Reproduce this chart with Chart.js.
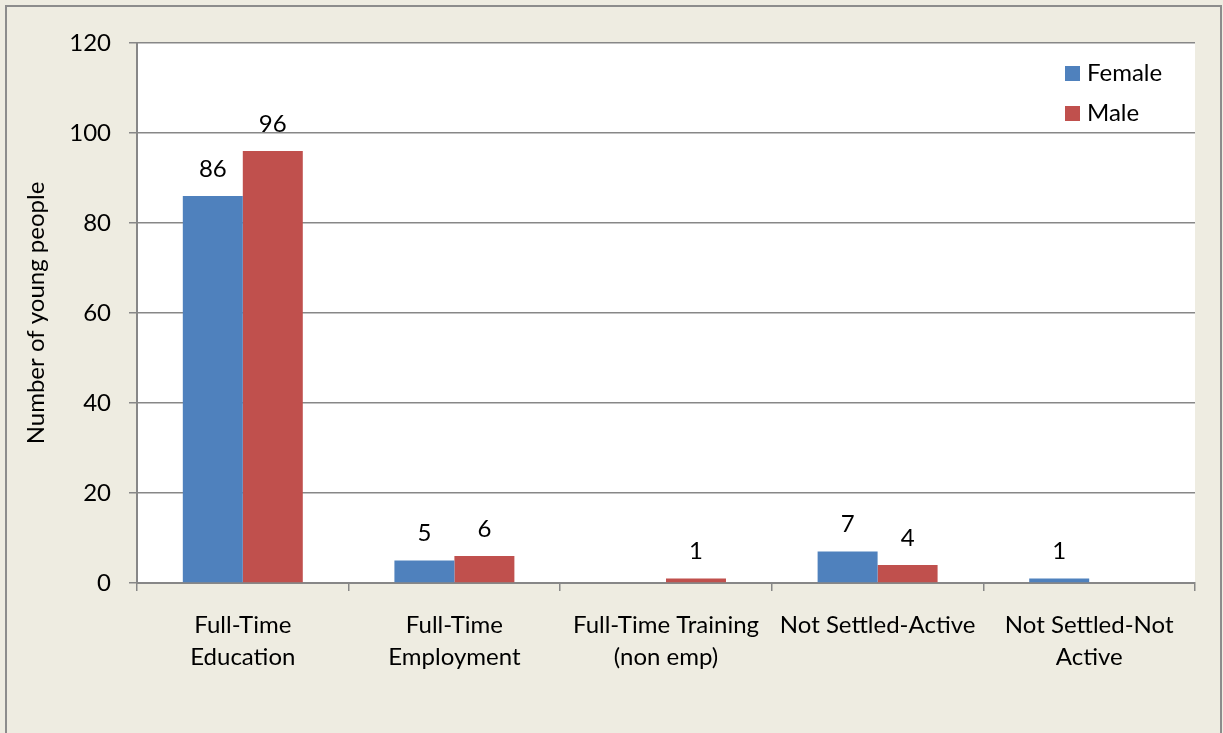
<!DOCTYPE html>
<html>
<head>
<meta charset="utf-8">
<script src="https://cdn.jsdelivr.net/npm/chart.js@4.4.0/dist/chart.umd.min.js"></script>
<style>
  html, body { margin: 0; padding: 0; background: #EEECE1; }
  #wrap { width: 1223px; height: 733px; position: relative; }
</style>
</head>
<body>
<div id="wrap"><canvas id="c" width="1223" height="733"></canvas></div>
<script>
const categories = [
  ["Full-Time", "Education"],
  ["Full-Time", "Employment"],
  ["Full-Time Training", "(non emp)"],
  "Not Settled-Active",
  ["Not Settled-Not", "Active"]
];
const femaleValues = [86, 5, 0, 7, 1];
const maleValues = [96, 6, 1, 4, 0];
const seriesNames = ["Female", "Male"];
const seriesColors = ["#4F81BD", "#C0504D"];
const yTicks = [0, 20, 40, 60, 80, 100, 120];
const yTitle = "Number of young people";

const FONT = "Lato, 'Open Sans', sans-serif";
const FS = 24;
const GRID = "#878787";

const bgPlugin = {
  id: 'bg',
  beforeDraw(chart) {
    const { ctx, chartArea: a } = chart;
    ctx.save();
    ctx.fillStyle = '#EEECE1';
    ctx.fillRect(0, 0, chart.width, chart.height);
    ctx.fillStyle = '#FFFFFF';
    ctx.fillRect(a.left, a.top, a.right - a.left, a.bottom - a.top);
    ctx.restore();
  },
  afterDatasetsDraw(chart) {
    const { ctx } = chart;
    ctx.save();
    ctx.fillStyle = '#000';
    ctx.font = FS + "px " + FONT;
    ctx.textAlign = 'center';
    ctx.textBaseline = 'middle';
    chart.data.datasets.forEach((ds, i) => {
      const meta = chart.getDatasetMeta(i);
      meta.data.forEach((bar, j) => {
        const v = ds.data[j];
        if (!v) return;
        ctx.fillText(String(v), bar.x, bar.y - 27);
      });
    });
    ctx.restore();
  },
  afterDraw(chart) {
    const { ctx } = chart;
    ctx.save();
    // legend
    ctx.font = FS + "px " + FONT;
    ctx.textBaseline = 'middle';
    ctx.textAlign = 'left';
    const lx = 1065, ly = [73.5, 113.5];
    chart.data.datasets.forEach((ds, i) => {
      ctx.fillStyle = ds.backgroundColor;
      ctx.fillRect(lx, ly[i] - 7.5, 15, 15);
      ctx.fillStyle = '#000';
      ctx.fillText(ds.label, lx + 22, ly[i]);
    });
    // outer border
    ctx.strokeStyle = '#8C8C8C';
    ctx.lineWidth = 2;
    ctx.strokeRect(6, 6, 1215, 760);
    ctx.restore();
  }
};

new Chart(document.getElementById('c'), {
  type: 'bar',
  data: {
    labels: categories,
    datasets: [
      { label: seriesNames[0], data: femaleValues, backgroundColor: seriesColors[0] },
      { label: seriesNames[1], data: maleValues, backgroundColor: seriesColors[1] }
    ]
  },
  options: {
    responsive: false,
    animation: false,
    devicePixelRatio: 1,
    layout: { padding: { left: 0, top: 43, right: 28, bottom: 0 } },
    datasets: { bar: { barPercentage: 1, categoryPercentage: 0.567 } },
    plugins: { legend: { display: false }, tooltip: { enabled: false } },
    scales: {
      x: {
        offset: true,
        afterFit(s) { s.height = 150; },
        grid: { offset: true, drawOnChartArea: false, drawTicks: true, tickLength: 8, color: GRID, lineWidth: 1.5 },
        border: { display: true, color: GRID, width: 2 },
        ticks: {
          color: '#000', font: { family: FONT, size: FS, lineHeight: 1.33 },
          maxRotation: 0, autoSkip: false, padding: 18
        }
      },
      y: {
        min: 0, max: 120,
        afterFit(s) { s.width = 137; },
        afterBuildTicks(s) { s.ticks = yTicks.map(v => ({ value: v })); },
        grid: { color: GRID, lineWidth: 1.5, tickLength: 8, drawTicks: true },
        border: { display: true, color: GRID, width: 2 },
        ticks: { color: '#000', font: { family: FONT, size: FS }, padding: 18 },
        title: { display: true, text: yTitle, color: '#000', font: { family: FONT, size: FS }, padding: { top: 22, bottom: 0 } }
      }
    }
  },
  plugins: [bgPlugin]
});
</script>
</body>
</html>
